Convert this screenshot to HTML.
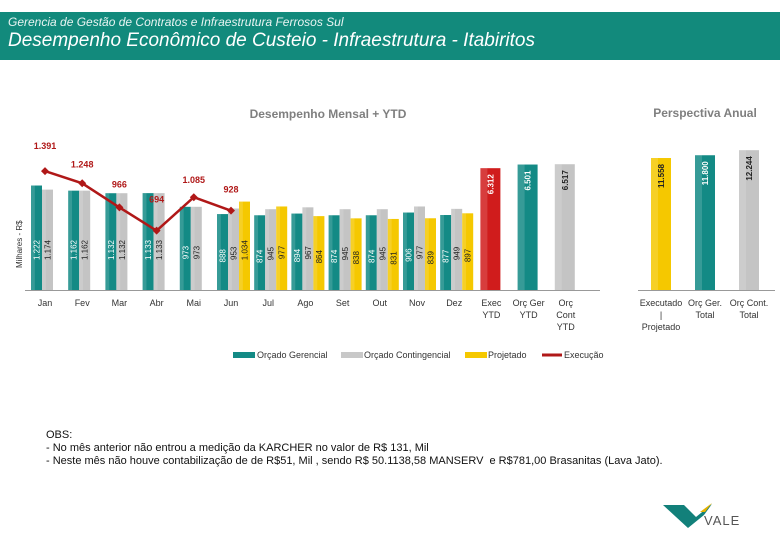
<!DOCTYPE html>
<html><head><meta charset="utf-8">
<style>
body{margin:0;width:780px;height:540px;background:#fff;overflow:hidden;font-family:"Liberation Sans",sans-serif;position:relative}
#hdr{position:absolute;left:0;top:12px;width:780px;height:48px;background:#128a7c}
#sub{position:absolute;left:8px;top:3px;font-size:12px;font-style:italic;color:#e8f4f2;white-space:nowrap}
#ttl{position:absolute;left:8px;top:18px;font-size:19px;font-style:italic;color:#fff;white-space:nowrap}
#obs{position:absolute;left:46px;top:429px;font-size:11px;color:#111;line-height:13px}
</style></head><body>
<div id="hdr">
<div id="sub">Gerencia de Gestão de Contratos e Infraestrutura Ferrosos Sul</div>
<div id="ttl">Desempenho Econômico de Custeio - Infraestrutura - Itabiritos</div>
</div>
<svg id="chart" width="780" height="540" style="position:absolute;left:0;top:0">
<text x="328" y="118" font-size="12" font-weight="bold" fill="#7f7f7f" text-anchor="middle">Desempenho Mensal + YTD</text>
<text x="705" y="117" font-size="12" font-weight="bold" fill="#7f7f7f" text-anchor="middle">Perspectiva Anual</text>
<text x="0" y="0" font-size="8" fill="#333" transform="translate(22,268) rotate(-90)">Milhares - R$</text>
<line x1="25" y1="290.5" x2="600" y2="290.5" stroke="#999"/>
<line x1="638" y1="290.5" x2="775" y2="290.5" stroke="#999"/>
<g id="g"></g>
<g>
<rect x="233" y="352" width="22" height="6" fill="#138a85"/><text x="257" y="358" font-size="9" fill="#333">Orçado Gerencial</text>
<rect x="341" y="352" width="22" height="6" fill="#c8c8c8"/><text x="364" y="358" font-size="9" fill="#333">Orçado Contingencial</text>
<rect x="465" y="352" width="22" height="6" fill="#f5c800"/><text x="488" y="358" font-size="9" fill="#333">Projetado</text>
<line x1="542" y1="355" x2="562" y2="355" stroke="#b01818" stroke-width="3"/><text x="564" y="358" font-size="9" fill="#333">Execução</text>
</g>
<g>
<path d="M663 505 L684 505 L696 517 L712 504 L704 515 L688 528 Z" fill="#12807a"/>
<path d="M700 512 L712 503 L705 512 Z" fill="#e5b100"/>
<text x="704" y="525" font-size="13" fill="#555" letter-spacing="1">VALE</text>
</g>
</svg>
<div id="obs">OBS:<br>- No mês anterior não entrou a medição da KARCHER no valor de R$ 131, Mil<br>- Neste mês não houve contabilização de de R$51, Mil , sendo R$ 50.1138,58 MANSERV&nbsp; e R$781,00 Brasanitas (Lava Jato).</div>
<script>
const months=["Jan","Fev","Mar","Abr","Mai","Jun","Jul","Ago","Set","Out","Nov","Dez"];
const orcGer=[1222,1162,1132,1133,973,888,874,894,874,874,906,877];
const orcCont=[1174,1162,1132,1133,973,953,945,967,945,945,977,949];
const projetado=[null,null,null,null,null,1034,977,864,838,831,839,897];
const execucao=[1391,1248,966,694,1085,928];
const ytdLabels=[["Exec","YTD"],["Orç Ger","YTD"],["Orç","Cont","YTD"]];
const ytdValues=[6312,6501,6517];
const annualLabels=[["Executado","|","Projetado"],["Orç Ger.","Total"],["Orç Cont.","Total"]];
const annualValues=[11558,11800,12244];
const NS="http://www.w3.org/2000/svg",g=document.getElementById('g');
const base=290, mS=0.0855, yS=0.0193, aS=0.01142;
const xM=i=>45+i*37.2;
function mk(t,a){const e=document.createElementNS(NS,t);for(const k in a)e.setAttribute(k,a[k]);g.appendChild(e);return e;}
function fmt(v){return v>=1000?Math.floor(v/1000)+"."+String(v%1000).padStart(3,"0"):String(v);}
const cols={ger:"#138a85",cont:"#c4c4c4",proj:"#f5c800",exec:"#d01c1c"};
function bar(x,w,v,s,c,txtc,name,top){
  const h=v*s;
  const r=mk('rect',{x:x,y:base-h,width:w,height:h,fill:c});
  
  
  mk('rect',{x:x,y:base-h,width:w*0.35,height:h,fill:"#fff",opacity:0.15});
  const t=mk('text',{x:0,y:0,"font-size":8,fill:txtc});
  t.textContent=fmt(v);
  if(top){t.setAttribute('text-anchor','end');t.setAttribute('font-weight','bold');t.setAttribute('transform',`translate(${x+w/2+3},${base-h+6}) rotate(-90)`);}
  else {t.setAttribute('text-anchor','middle');t.setAttribute('transform',`translate(${x+w/2+3},${base-Math.min(h*0.45,40)}) rotate(-90)`);}
}
months.forEach((m,i)=>{
  const x0=xM(i)-14;
  bar(x0,11,orcGer[i],mS,cols.ger,"#fff","bar-orcado-gerencial-"+m);
  bar(x0+11,11,orcCont[i],mS,cols.cont,"#222","bar-orcado-contingencial-"+m);
  if(projetado[i]!=null) bar(x0+22,11,projetado[i],mS,cols.proj,"#222","bar-projetado-"+m);
  const t=mk('text',{x:xM(i),y:306,"font-size":9,fill:"#333","text-anchor":"middle"});
  t.textContent=m;
  
  
});
ytdValues.forEach((v,i)=>{
  const cx=xM(12+i);
  bar(cx-11,20,v,yS,[cols.exec,cols.ger,cols.cont][i],i==2?"#222":"#fff","bar-ytd-"+i,true);
  ytdLabels[i].forEach((l,j)=>{const t=mk('text',{x:cx,y:306+j*12,"font-size":9,fill:"#333","text-anchor":"middle"});t.textContent=l;
  
  });
});
annualValues.forEach((v,i)=>{
  const cx=661+i*44;
  bar(cx-10,20,v,aS,[cols.proj,cols.ger,cols.cont][i],i==1?"#fff":"#222","bar-annual-"+i,true);
  annualLabels[i].forEach((l,j)=>{const t=mk('text',{x:cx,y:306+j*12,"font-size":9,fill:"#333","text-anchor":"middle"});t.textContent=l;
  
  });
});
const pts=execucao.map((v,i)=>[xM(i),base-v*mS]);
const pl=mk('polyline',{points:pts.map(p=>p.join(",")).join(" "),fill:"none",stroke:"#b01818","stroke-width":2.5});


const offs=[-22,-16,-20,-28,-14,-18];
pts.forEach((p,i)=>{
  const d=mk('path',{d:`M${p[0]} ${p[1]-4}L${p[0]+4} ${p[1]}L${p[0]} ${p[1]+4}L${p[0]-4} ${p[1]}Z`,fill:"#b01818"});
  
  
  const t=mk('text',{x:p[0],y:p[1]+offs[i],"font-size":9,"font-weight":"bold",fill:"#b01818","text-anchor":"middle"});
  t.textContent=fmt(execucao[i]);
  
  
});
</script>
</body></html>
